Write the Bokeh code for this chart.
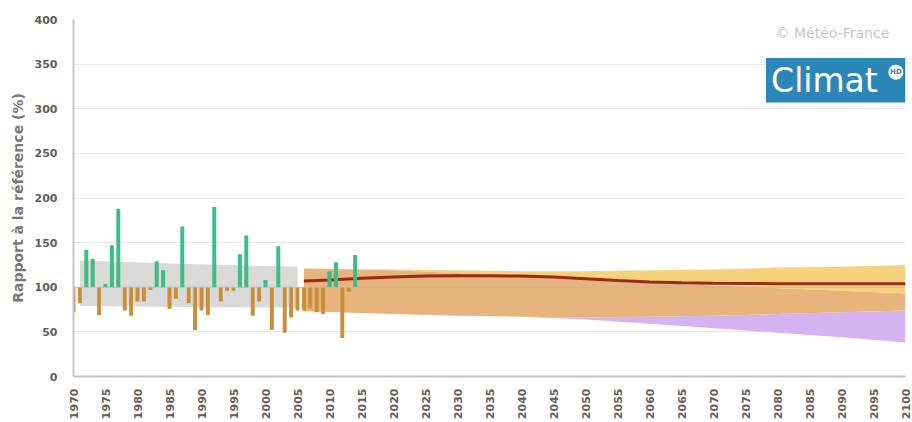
import math
from bokeh.plotting import figure
from bokeh.models import FixedTicker, BoxAnnotation, Label, Span, ColumnDataSource
from bokeh.embed import file_html
from bokeh.resources import INLINE

# ---- data ----
years = list(range(1970, 2015))
ratio = [72, 82, 142, 132, 69, 104, 147, 188, 74, 68,
         84, 84, 97, 129, 119, 76, 87, 168, 82, 52,
         74, 69, 190, 84, 96, 96, 137, 158, 68, 84,
         108, 52, 146, 49, 66, 74, 74, 77, 72, 70,
         118, 128, 43, 95, 136]

ref_years = [1971, 1988, 2005]
ref_low = [79, 78, 77]
ref_high = [130, 126, 123]

proj_years = [2006, 2020, 2030, 2040, 2050, 2060, 2070, 2080, 2090, 2100]
yellow_top = [121, 120, 119, 118, 118, 119, 120, 122, 123, 125]
orange_top = [121, 119, 116, 112, 109, 105, 102, 99, 96, 93]
orange_bottom = [73, 70, 68, 67, 66, 67, 68, 70, 72, 74]
purple_bottom = [73, 70, 68, 67, 64, 59, 54, 49, 44, 38]

median_years = [2006, 2010, 2015, 2020, 2025, 2030, 2035, 2040, 2045, 2050,
                2055, 2060, 2065, 2070, 2080, 2090, 2100]
median_vals = [107, 108, 110, 111.5, 112.5, 113, 113, 112.5, 111.5, 109.5,
               107.5, 106, 105, 104.5, 104, 104, 104]

x_ticks = list(range(1970, 2101, 5))
y_ticks = list(range(0, 401, 50))
baseline = 100

pos_color = "#3dbb88"
neg_color = "#c98e38"

p = figure(width=912, height=422, x_range=(1970, 2100), y_range=(0, 400),
           output_backend="svg", toolbar_location=None,
           min_border_left=73, min_border_right=7, min_border_top=19,
           min_border_bottom=44)
p.outline_line_color = None
p.background_fill_color = "white"

# reference band (grey)
p.varea(x=ref_years, y1=ref_low, y2=ref_high, fill_color="#d9d9d9", fill_alpha=1)

# projection bands
p.varea(x=proj_years, y1=orange_top, y2=yellow_top, fill_color="#f6d27d", fill_alpha=1)
p.varea(x=proj_years, y1=purple_bottom, y2=orange_bottom, fill_color="#d5b3f0", fill_alpha=1)
p.varea(x=proj_years, y1=orange_bottom, y2=orange_top, fill_color="#e6b47c", fill_alpha=1)

p.add_layout(Span(location=baseline, dimension="width", line_color="#b8b8b8",
                  line_width=1, line_alpha=0.8))

p.line(median_years, median_vals, line_color="#9c2a14", line_width=3)

src = ColumnDataSource(dict(
    x=years, top=ratio, bottom=[baseline] * len(ratio),
    color=[pos_color if v >= baseline else neg_color for v in ratio]))
p.vbar(x="x", top="top", bottom="bottom", width=0.62, fill_color="color",
       line_color=None, source=src)

# logo / credit
p.add_layout(BoxAnnotation(left=2078.2, right=2100, bottom=307, top=357,
                           fill_color="#2b87b7", fill_alpha=1, line_color=None))
p.add_layout(Label(x=2079.0, y=331.5, text="Climat", text_color="white",
                   text_font="DejaVu Sans", text_font_size="33px",
                   text_baseline="middle", text_align="left"))
p.scatter([2098.5], [341], size=15, fill_color="white", line_color=None,
          level="overlay")
p.add_layout(Label(x=2098.5, y=341, text="HD", text_color="#2b87b7",
                   text_font="DejaVu Sans", text_font_size="7px", text_font_style="bold",
                   text_baseline="middle", text_align="center", level="overlay"))
p.add_layout(Label(x=2079.7, y=385, text="© Météo-France", text_color="#c6c6c6",
                   text_font="DejaVu Sans", text_font_size="14px",
                   text_baseline="middle", text_align="left"))

# axes
p.xaxis.ticker = FixedTicker(ticks=x_ticks)
p.yaxis.ticker = FixedTicker(ticks=y_ticks)
p.xaxis.major_label_orientation = math.pi / 2
for ax in (p.xaxis, p.yaxis):
    ax.major_label_text_font = "DejaVu Sans"
    ax.major_label_text_font_style = "bold"
    ax.major_label_text_font_size = "11px"
    ax.major_label_text_color = "#5e5e5e"
    ax.major_tick_line_color = None
    ax.minor_tick_line_color = None
    ax.axis_line_color = "#c4c4c4"
p.xaxis.axis_line_width = 2
p.yaxis.axis_line_width = 2
p.xaxis.major_label_standoff = 6
p.yaxis.major_label_standoff = 10
p.yaxis.axis_label = "Rapport à la référence (%)"
p.yaxis.axis_label_text_font = "DejaVu Sans"
p.yaxis.axis_label_text_font_style = "bold"
p.yaxis.axis_label_text_font_size = "14px"
p.yaxis.axis_label_text_color = "#777777"
p.yaxis.axis_label_standoff = 6

p.xgrid.grid_line_color = None
p.ygrid.grid_line_color = "#e6e6e6"

open("out.html", "w").write(file_html(p, INLINE))
